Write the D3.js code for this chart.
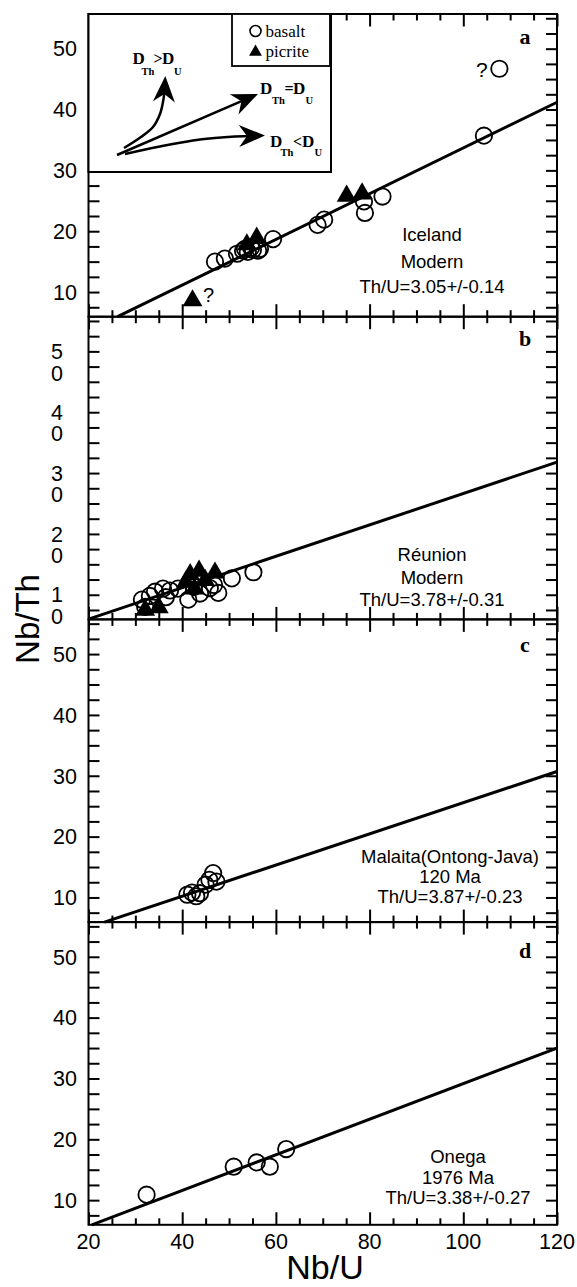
<!DOCTYPE html>
<html><head><meta charset="utf-8">
<script src="https://cdn.jsdelivr.net/npm/d3@7"></script>
<style>body{margin:0;background:#fff} svg{display:block}</style>
</head><body>
<svg id="c" width="577" height="1287"></svg>
<script>
// ---------- data ----------
const xMajorTicks = [20, 40, 60, 80, 100, 120];
const xMinorTicks = [25, 30, 35, 45, 50, 55, 65, 70, 75, 85, 90, 95, 105, 110, 115];
const yLabelTicks = [10, 20, 30, 40, 50];
const yAllTicks = [7.5, 10, 12.5, 15, 17.5, 20, 22.5, 25, 27.5, 30, 32.5, 35, 37.5, 40, 42.5, 45, 47.5, 50, 52.5, 55];
const yDomain = [5.95, 55.7];
const xDomain = [20, 120];
const panelLetters = ["a", "b", "c", "d"];

const basaltA = [[47.0,15.0],[49.1,15.5],[51.7,16.3],[53.0,16.8],[54.0,16.6],[55.1,16.95],[56.2,16.8],[54.7,17.3],[53.4,17.1],[56.6,17.1],[59.4,18.7],[68.9,21.05],[70.3,21.9],[78.8,24.9],[79.0,23.0],[82.75,25.7],[104.4,35.7],[107.7,46.7]];
const picriteA = [[42.2,8.6],[53.8,17.8],[55.9,18.9],[75.1,25.8],[78.4,26.15]];
const basaltB = [[31.4,9.2],[32.1,8.0],[33.1,9.8],[34.2,10.5],[35.9,11.0],[37.4,10.7],[39.1,11.0],[41.3,9.2],[43.8,10.2],[45.9,11.1],[47.7,10.3],[46.8,11.6],[50.6,12.7],[55.2,13.7],[36.5,9.6],[42.5,11.3]];
const picriteB = [[41.7,13.35],[43.6,13.9],[47.0,13.6],[40.8,12.1],[44.9,12.4],[32.1,7.5],[35.0,7.9],[42.6,11.0]];
const basaltC = [[41.1,10.45],[42.1,10.8],[43.0,10.2],[43.8,10.7],[45.0,12.1],[45.8,12.9],[46.6,14.0],[47.3,12.6]];
const picriteC = [];
const basaltD = [[32.4,10.9],[51.0,15.5],[55.9,16.2],[58.7,15.5],[62.2,18.4]];
const picriteD = [];

const lineA = [[26.2,5.95],[120,41.2]];
const lineB = [[20,6.0],[120,31.8]];
const lineC = [[23.4,5.95],[120,30.7]];
const lineD = [[20.7,5.95],[120,35.0]];

const textA = ["Iceland", "Modern", "Th/U=3.05+/-0.14"];
const textB = ["R\u00e9union", "Modern", "Th/U=3.78+/-0.31"];
const textC = ["Malaita(Ontong-Java)", "120 Ma", "Th/U=3.87+/-0.23"];
const textD = ["Onega", "1976 Ma", "Th/U=3.38+/-0.27"];

// ---------- layout ----------
const SANS = "'Liberation Sans', Arial, Helvetica, sans-serif";
const SERIF = "'Liberation Serif', 'Times New Roman', Times, serif";
const left = 88.5, right = 557, top0 = 14, panelH = 302.7;
const x = d3.scaleLinear().domain(xDomain).range([left, right]);
const svg = d3.select("#c");

const panels = [
  {basalt: basaltA, picrite: picriteA, line: lineA, text: textA, tx: 432, ty: [241, 268, 293], ly: 44},
  {basalt: basaltB, picrite: picriteB, line: lineB, text: textB, tx: 432, ty: [561, 584, 606], ly: 346},
  {basalt: basaltC, picrite: picriteC, line: lineC, text: textC, tx: 450, ty: [863, 883, 903], ly: 652},
  {basalt: basaltD, picrite: picriteD, line: lineD, text: textD, tx: 458, ty: [1163, 1184, 1204], ly: 958}
];

const tri = d3.symbol().type(d3.symbolTriangle).size(170);

panels.forEach((p, i) => {
  const top = top0 + i * panelH, bot = top + panelH;
  const y = d3.scaleLinear().domain(yDomain).range([bot, top]);
  const g = svg.append("g");

  g.append("g").attr("transform", `translate(${left},0)`)
    .call(d3.axisLeft(y).tickValues(yAllTicks).tickSize(-11).tickFormat(""))
    .call(a => a.select(".domain").remove())
    .selectAll("line").attr("stroke", "#000").attr("stroke-width", 2);
  g.append("g").attr("transform", `translate(${right},0)`)
    .call(d3.axisRight(y).tickValues(yAllTicks).tickSize(-11).tickFormat(""))
    .call(a => a.select(".domain").remove())
    .selectAll("line").attr("stroke", "#000").attr("stroke-width", 2);

  [[xMajorTicks, 12.5], [xMinorTicks, 6.5]].forEach(([vals, len]) => {
    g.append("g").attr("transform", `translate(0,${bot})`)
      .call(d3.axisBottom(x).tickValues(vals).tickSize(-len).tickFormat(""))
      .call(a => a.select(".domain").remove())
      .selectAll("line").attr("stroke", "#000").attr("stroke-width", 2);
    g.append("g").attr("transform", `translate(0,${top})`)
      .call(d3.axisTop(x).tickValues(vals).tickSize(-len).tickFormat(""))
      .call(a => a.select(".domain").remove())
      .selectAll("line").attr("stroke", "#000").attr("stroke-width", 2);
  });

  g.append("rect").attr("x", left).attr("y", top).attr("width", right - left).attr("height", panelH)
    .attr("fill", "none").attr("stroke", "#000").attr("stroke-width", 2);

  if (i === 1) {
    yLabelTicks.forEach(v => {
      const s = String(v);
      g.append("text").attr("x", 57).attr("y", y(v)).attr("dy", "0.36em")
        .attr("text-anchor", "middle").style("font", `21.5px ${SANS}`).text(s[0]);
      g.append("text").attr("x", 57).attr("y", y(v) + 21.5).attr("dy", "0.36em")
        .attr("text-anchor", "middle").style("font", `21.5px ${SANS}`).text(s[1]);
    });
  } else {
    yLabelTicks.forEach(v => {
      g.append("text").attr("x", 77).attr("y", y(v)).attr("dy", "0.36em")
        .attr("text-anchor", "end").style("font", `21.5px ${SANS}`).text(v);
    });
  }

  g.append("path").datum(p.line)
    .attr("d", d3.line().x(d => x(d[0])).y(d => y(d[1])))
    .attr("stroke", "#000").attr("stroke-width", 3).attr("fill", "none");

  g.selectAll("circle.b").data(p.basalt).join("circle")
    .attr("cx", d => x(d[0])).attr("cy", d => y(d[1])).attr("r", 8.2)
    .attr("fill", "none").attr("stroke", "#000").attr("stroke-width", 1.8);

  g.selectAll("path.t").data(p.picrite).join("path")
    .attr("d", tri).attr("transform", d => `translate(${x(d[0])},${y(d[1])})`)
    .attr("fill", "#000");

  p.text.forEach((t, k) => {
    g.append("text").attr("x", p.tx).attr("y", p.ty[k]).attr("text-anchor", "middle")
      .style("font", `18.5px ${SANS}`).text(t);
  });

  g.append("text").attr("x", 525).attr("y", p.ly).attr("text-anchor", "middle")
    .style("font", `bold 22px ${SERIF}`).text(panelLetters[i]);

  if (i === 0) {
    g.append("text").attr("x", 476).attr("y", 77).style("font", `21px ${SANS}`).text("?");
    g.append("text").attr("x", 203).attr("y", 302).style("font", `20px ${SANS}`).text("?");
  }
});

// ---------- inset schematic in panel a ----------
const inset = svg.append("g");
inset.append("rect").attr("x", left).attr("y", top0).attr("width", 331 - left).attr("height", 158)
  .attr("fill", "#fff").attr("stroke", "#000").attr("stroke-width", 2);

const defs = svg.append("defs");
defs.append("marker").attr("id", "ah").attr("viewBox", "-22 -12 29 24")
  .attr("refX", 0).attr("refY", 0).attr("markerWidth", 29).attr("markerHeight", 24)
  .attr("markerUnits", "userSpaceOnUse").attr("orient", "auto")
  .append("path").attr("d", "M6,0 L-20,-11 L-12,0 L-20,11 Z").attr("fill", "#000");

const arrowUp = [[124,148],[141,137],[153,127],[160,114],[163.5,99],[165,82]];
const arrowMid = [[117,155],[252.5,96.4]];
const arrowLow = [[125,154],[160,146.5],[200,139.5],[235,136.5],[259,135.6]];
[arrowUp, arrowMid, arrowLow].forEach(pts => {
  inset.append("path").datum(pts)
    .attr("d", d3.line().curve(d3.curveCatmullRom)(pts))
    .attr("fill", "none").attr("stroke", "#000").attr("stroke-width", 2.5)
    .attr("marker-end", "url(#ah)");
});

function dLabel(x0, yb, parts) {
  parts.forEach(([dx, dy, sz, t]) => {
    inset.append("text").attr("x", x0 + dx).attr("y", yb + dy)
      .style("font", `bold ${sz}px ${SERIF}`).text(t);
  });
}
dLabel(132.5, 63.5, [[0,0,17,"D"],[9,11.5,10.5,"Th"],[21,0,16,">"],[29.5,0,17,"D"],[41.5,11.5,10.5,"U"]]);
dLabel(260, 93.5, [[0,0,17,"D"],[12,10,10.5,"Th"],[24.5,0,16,"="],[33,0,17,"D"],[45.5,10,10.5,"U"]]);
dLabel(270, 147, [[0,0,17,"D"],[10.5,8.5,10.5,"Th"],[23,0,16,"<"],[32,0,17,"D"],[44.5,8.5,10.5,"U"]]);

// legend
const leg = svg.append("g");
leg.append("rect").attr("x", 232).attr("y", top0).attr("width", 98).attr("height", 52)
  .attr("fill", "#fff").attr("stroke", "#000").attr("stroke-width", 1.8);
leg.append("circle").attr("cx", 255.5).attr("cy", 31).attr("r", 5.5)
  .attr("fill", "none").attr("stroke", "#000").attr("stroke-width", 1.6);
leg.append("path").attr("d", d3.symbol().type(d3.symbolTriangle).size(72)())
  .attr("transform", "translate(255.5,52)").attr("fill", "#000");
leg.append("text").attr("x", 265.5).attr("y", 37).style("font", `17px ${SERIF}`).text("basalt");
leg.append("text").attr("x", 265.5).attr("y", 57).style("font", `17px ${SERIF}`).text("picrite");

// x tick labels & axis titles
xMajorTicks.forEach(v => {
  svg.append("text").attr("x", x(v)).attr("y", 1248.5).attr("text-anchor", "middle")
    .style("font", `21.5px ${SANS}`).text(v);
});
svg.append("text").attr("x", 325).attr("y", 1279).attr("text-anchor", "middle")
  .style("font", `34px ${SANS}`).text("Nb/U");
svg.append("text").attr("transform", "translate(39,619) rotate(-90)").attr("text-anchor", "middle")
  .style("font", `33px ${SANS}`).text("Nb/Th");
</script>
</body></html>
